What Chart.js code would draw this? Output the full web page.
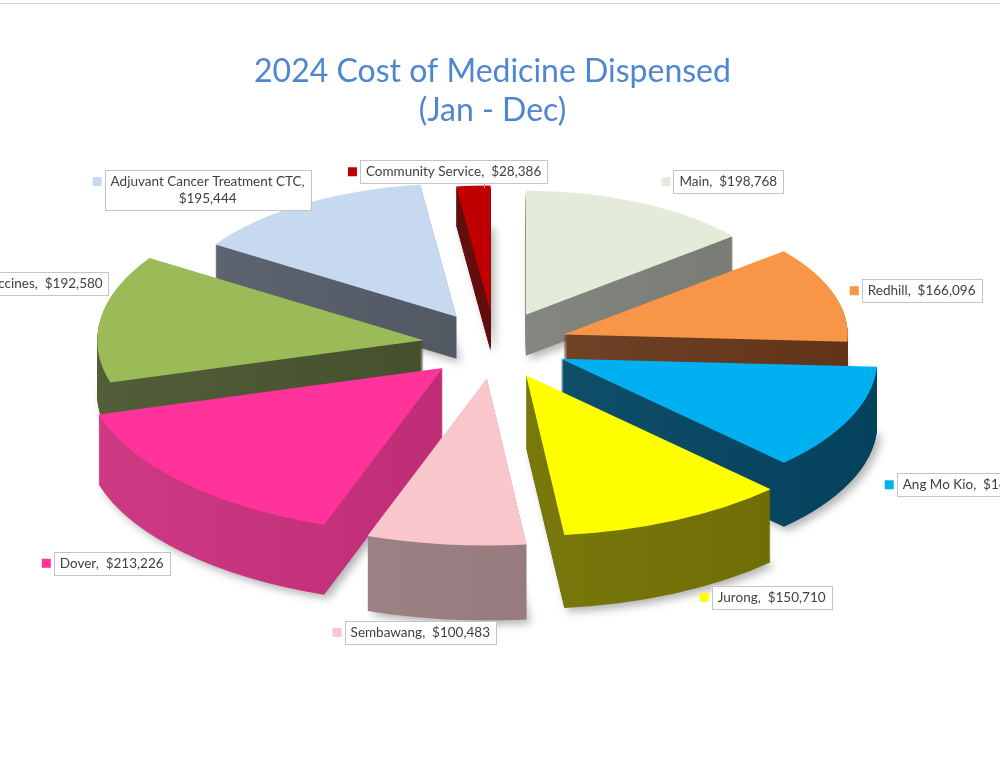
<!DOCTYPE html>
<html lang="en">
<head>
    <meta charset="UTF-8">
    <title>2024 Cost of Medicine Dispensed</title>
    <script src="https://cdn.jsdelivr.net/npm/chart.js"></script>
    <style>
        html, body { margin: 0; padding: 0; background: #fff; }
        .chart-wrap { position: relative; width: 1000px; height: 761px; }
    </style>
</head>
<body>
    <div class="chart-wrap">
        <canvas id="costChart"></canvas>
    </div>

    <script>
        // Chart data (Ang Mo Kio value is cut off in the source, estimated)
        const sites = ['Main', 'Redhill', 'Ang Mo Kio', 'Jurong', 'Sembawang', 'Dover', 'Vaccines', 'Adjuvant Cancer Treatment CTC', 'Community Service'];
        const costs = [198768, 166096, 165000, 150710, 100483, 213226, 192580, 195444, 28386];

        // Top face and side colours for each slice
        const topColors = ['#E5EBD9', '#F79646', '#00B0F0', '#FFFF00', '#F9C6CB', '#FF3399', '#9BBB59', '#C6D9F0', '#C00000'];
        const sideColors = ['#868981', '#6E3B1C', '#034A68', '#7A7800', '#9C7E80', '#C92476', '#3F4B23', '#4D5561', '#5E0000'];

        // Label nudges relative to the outer middle of each slice, and which get a leader line
        const labelNudge = [[33, -21], [28, -3], [47, 66], [36, 77], [50, 88], [-13, 81], [8, -35], [7, -14], [74, -14]];
        const labelLeader = [false, false, false, false, false, false, false, false, true];

        // Fake 3D look: ellipse centre/radii, explosion, perspective and extrusion
        const CX = 495, CY = 345, RX = 315, RY = 146;
        const EXPLODE = 0.229, PERSP = 0.14, PERSP_X = 0.057, DEPTH = 57, DEPTH_PERSP = 0.32;

        function sliceFrame(el) {
            const mid = (el.startAngle + el.endAngle) / 2;
            const fromTop = mid + Math.PI / 2;
            return {
                mid: mid,
                f: 1 - PERSP * Math.cos(fromTop) - PERSP_X * Math.sin(fromTop),
                depth: Math.round(DEPTH * (1 - DEPTH_PERSP * Math.cos(fromTop))),
                ox: CX + EXPLODE * RX * Math.cos(mid),
                oy: CY + EXPLODE * RY * Math.sin(mid)
            };
        }

        function shade(hex, amt) {
            const n = parseInt(hex.slice(1), 16);
            const ch = [n >> 16, (n >> 8) & 255, n & 255].map(c => {
                const v = amt >= 0 ? c + (255 - c) * amt : c * (1 + amt);
                return Math.round(Math.max(0, Math.min(255, v)));
            });
            return 'rgb(' + ch.join(',') + ')';
        }

        function drawSlice(ctx, el, fr, dy, fill) {
            const r0 = el.outerRadius;
            ctx.save();
            ctx.translate(fr.ox, fr.oy + dy);
            ctx.scale(RX * fr.f / r0, RY * fr.f / r0);
            ctx.translate(-el.x, -el.y);
            if (fill) {
                const base = el.options;
                el.options = new Proxy(base, { get: (t, k) => k === 'backgroundColor' ? fill : t[k] });
                el.draw(ctx);
                el.options = base;
            } else {
                el.draw(ctx);
            }
            ctx.restore();
        }

        const pie3d = {
            id: 'pie3d',
            beforeDraw(chart) {
                const ctx = chart.ctx;
                ctx.save();
                ctx.strokeStyle = '#D9D9D9';
                ctx.lineWidth = 1;
                ctx.beginPath();
                ctx.moveTo(0, 3.5);
                ctx.lineTo(chart.width, 3.5);
                ctx.stroke();
                ctx.restore();
            },
            beforeDatasetDraw(chart, args) {
                const ctx = chart.ctx;
                const arcs = args.meta.data;
                const frames = arcs.map(sliceFrame);
                const fills = arcs.map((el, i) => {
                    const g = ctx.createLinearGradient(el.x - el.outerRadius, 0, el.x + el.outerRadius, 0);
                    g.addColorStop(0, shade(sideColors[i], 0.1));
                    g.addColorStop(1, shade(sideColors[i], -0.12));
                    return g;
                });
                const maxDepth = Math.max(...frames.map(f => f.depth));
                // extruded sides, deepest layer first
                for (let d = maxDepth; d >= 1; d--) {
                    arcs.forEach((el, i) => {
                        if (frames[i].depth < d) return;
                        ctx.save();
                        if (d === frames[i].depth) {
                            ctx.shadowColor = 'rgba(0,0,0,0.3)';
                            ctx.shadowBlur = 8;
                            ctx.shadowOffsetX = 4;
                            ctx.shadowOffsetY = 4;
                        }
                        drawSlice(ctx, el, frames[i], d, fills[i]);
                        ctx.restore();
                    });
                }
                // top faces
                arcs.forEach((el, i) => drawSlice(ctx, el, frames[i], 0, null));
                return false;
            },
            afterDatasetsDraw(chart) {
                const ctx = chart.ctx;
                const arcs = chart.getDatasetMeta(0).data;
                ctx.save();
                ctx.font = '13.5px Lato';
                ctx.textBaseline = 'middle';
                ctx.textAlign = 'center';
                arcs.forEach((el, i) => {
                    const fr = sliceFrame(el);
                    const px = fr.ox + RX * fr.f * Math.cos(fr.mid);
                    const py = fr.oy + RY * fr.f * Math.sin(fr.mid);
                    const value = '$' + costs[i].toLocaleString('en-US');
                    const full = sites[i] + ',  ' + value;
                    let lines = [full];
                    if (ctx.measureText(full).width > 190) {
                        lines = [sites[i] + ',', value];
                    }
                    const lineH = 17;
                    const w = Math.max(...lines.map(l => ctx.measureText(l).width)) + 12;
                    const h = lines.length * lineH + 6;
                    const ax = px + labelNudge[i][0];
                    const ay = py + labelNudge[i][1];
                    const left = Math.cos(fr.mid) >= 0 ? ax : ax - w;
                    const top = ay - h / 2;

                    if (labelLeader[i] && py > top + h) {
                        const lx = Math.round(left + w * 0.66) + 0.5;
                        ctx.strokeStyle = '#A6A6A6';
                        ctx.lineWidth = 1;
                        ctx.beginPath();
                        ctx.moveTo(lx, top + h);
                        ctx.lineTo(lx, py + 2);
                        ctx.stroke();
                    }

                    ctx.fillStyle = '#FFFFFF';
                    ctx.fillRect(left, top, w, h);
                    ctx.strokeStyle = '#C4C4C4';
                    ctx.lineWidth = 1;
                    ctx.strokeRect(Math.round(left) + 0.5, Math.round(top) + 0.5, Math.round(w), Math.round(h));

                    ctx.fillStyle = topColors[i];
                    ctx.fillRect(left - 12, top + 7, 9, 9);

                    ctx.fillStyle = '#404040';
                    lines.forEach((l, j) => {
                        ctx.fillText(l, left + w / 2, top + 3 + lineH / 2 + j * lineH);
                    });
                });
                ctx.restore();
            }
        };

        const ctx = document.getElementById('costChart').getContext('2d');
        const costChart = new Chart(ctx, {
            type: 'pie',
            data: {
                labels: sites,
                datasets: [{
                    data: costs,
                    backgroundColor: topColors,
                    borderWidth: 0
                }]
            },
            options: {
                responsive: true,
                maintainAspectRatio: false,
                animation: false,
                events: [],
                layout: { padding: { right: 15 } },
                plugins: {
                    legend: { display: false },
                    tooltip: { enabled: false },
                    title: {
                        display: true,
                        text: ['2024 Cost of Medicine Dispensed', '(Jan - Dec)'],
                        color: '#4F86D0',
                        font: { family: 'Lato', size: 32, weight: 'normal', lineHeight: 1.22 },
                        padding: { top: 52, bottom: 0 }
                    }
                }
            },
            plugins: [pie3d]
        });
    </script>
</body>
</html>
